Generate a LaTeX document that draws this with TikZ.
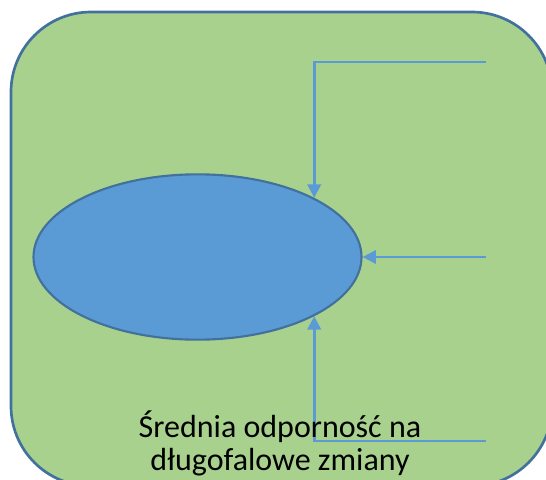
\documentclass[tikz,border=0pt]{standalone}
\usepackage{fontspec}
\setmainfont{Carlito}
\usepackage{tikz}
\usetikzlibrary{shapes.geometric}
\usetikzlibrary{arrows.meta}
\usepackage{xcolor}
\definecolor{leaf}{HTML}{A9D18E}
\definecolor{sky}{HTML}{5B9BD5}
\definecolor{rim}{HTML}{41719C}

\begin{document}
\begin{tikzpicture}[x=0.75pt,y=-0.75pt,
    flow/.style={draw=sky,line width=2pt,-{Triangle[length=10pt,width=10pt]}}]
  \useasboundingbox (0,0) rectangle (546,479);
  \clip (0,0) rectangle (546,479);
  \draw[fill=leaf,draw=rim,line width=2pt,rounded corners=60pt] (11,12) rectangle (552,486);
  \node[ellipse,fill=sky,draw=rim,line width=1.6pt,minimum width=246pt,minimum height=124pt,inner sep=0pt] (core) at (197.5,257) {};
  \coordinate (top) at (486,62);
  \coordinate (mid) at (486,257);
  \coordinate (low) at (486,441);
  \draw[flow] (top) -| (core.north east);
  \draw[flow] (mid) -- (core.east);
  \draw[flow] (low) -| (core.south east);
  \node[align=center,font=\fontsize{24}{24.75}\selectfont] (label) at (280,443) {Średnia odporność na\\długofalowe zmiany};
\end{tikzpicture}
\end{document}
